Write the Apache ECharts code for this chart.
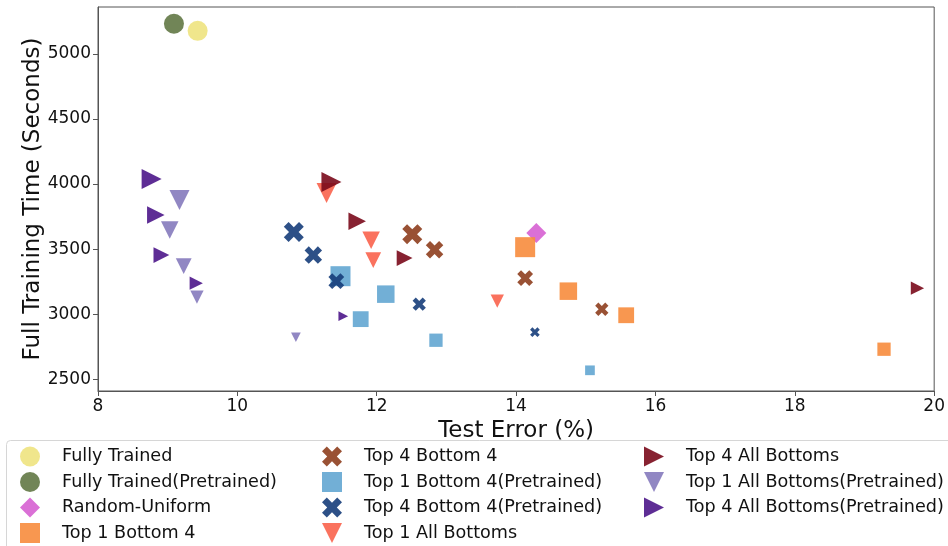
<!DOCTYPE html>
<html>
<head>
<meta charset="utf-8">
<script src="https://cdn.jsdelivr.net/npm/echarts@6/dist/echarts.min.js"></script>
<style>html,body{margin:0;padding:0;background:#fff}#c{width:948px;height:546px}</style>
</head>
<body>
<div id="c"></div>
<script>
// [test error %, training time s, size level]
const fullyTrained = [[9.43, 5177, 5]];
const fullyTrainedPre = [[9.09, 5231, 5]];
const randomUniform = [[14.29, 3623, 5]];
const top1Bottom4 = [[14.13, 3515, 5], [14.75, 3177, 4], [15.58, 2992, 3], [19.28, 2731, 2]];
const top4Bottom4 = [[12.51, 3615, 5], [12.83, 3495, 4], [14.13, 3277, 3], [15.23, 3038, 2]];
const top1Bottom4Pre = [[11.48, 3292, 5], [12.13, 3154, 4], [11.77, 2962, 3], [12.85, 2800, 2], [15.06, 2569, 1]];
const top4Bottom4Pre = [[10.81, 3631, 5], [11.09, 3454, 4], [11.42, 3254, 3], [12.61, 3077, 2], [14.27, 2862, 1]];
const top1AllBottoms = [[11.28, 3931, 5], [11.92, 3569, 4], [11.95, 3415, 3], [13.73, 3100, 2]];
const top4AllBottoms = [[11.35, 4015, 5], [11.72, 3715, 4], [12.40, 3431, 3], [19.76, 3200, 2]];
const top1AllBottomsPre = [[9.17, 3877, 5], [9.03, 3646, 4], [9.23, 3369, 3], [9.42, 3131, 2], [10.84, 2823, 1]];
const top4AllBottomsPre = [[8.77, 4038, 5], [8.83, 3762, 4], [8.91, 3454, 3], [9.41, 3238, 2], [11.52, 2985, 1]];

const seriesNames = ['Fully Trained', 'Fully Trained(Pretrained)', 'Random-Uniform', 'Top 1 Bottom 4',
  'Top 4 Bottom 4', 'Top 1 Bottom 4(Pretrained)', 'Top 4 Bottom 4(Pretrained)', 'Top 1 All Bottoms',
  'Top 4 All Bottoms', 'Top 1 All Bottoms(Pretrained)', 'Top 4 All Bottoms(Pretrained)'];
const seriesData = [fullyTrained, fullyTrainedPre, randomUniform, top1Bottom4, top4Bottom4, top1Bottom4Pre,
  top4Bottom4Pre, top1AllBottoms, top4AllBottoms, top1AllBottomsPre, top4AllBottomsPre];
const yTicks = [2500, 3000, 3500, 4000, 4500, 5000];

const X_PATH = 'path://M0,2.4L2.4,0L5,2.6L7.6,0L10,2.4L7.4,5L10,7.6L7.6,10L5,7.4L2.4,10L0,7.6L2.6,5Z';
const DOWN = 'path://M0,0L10,0L5,10Z';
const RIGHT = 'path://M0,0L10,5L0,10Z';
const symbols = ['circle', 'circle', 'diamond', 'rect', X_PATH, 'rect', X_PATH, DOWN, RIGHT, DOWN, RIGHT];
const colors = ['#eee37f', '#627845', '#d660d1', '#f78c3d', '#8e3e1e', '#63a6d2', '#163d7a', '#fa634d',
  '#7a0a1b', '#857abc', '#4d168a'];
const levelPx = {5: 20, 4: 17.5, 3: 15.8, 2: 13.3, 1: 9.7};

const FONT = 'DejaVu Sans';
const chart = echarts.init(document.getElementById('c'));
const series = seriesNames.map((n, i) => ({
  name: n,
  type: 'scatter',
  data: seriesData[i],
  symbol: symbols[i],
  symbolSize: v => levelPx[v[2]],
  itemStyle: {color: colors[i], opacity: 0.9},
  emphasis: {disabled: true}
}));
const legendCommon = {
  orient: 'vertical', top: 446.5, itemWidth: 20, itemHeight: 20, itemGap: 5.5, padding: 0,
  textStyle: {fontFamily: FONT, fontSize: 17.6, color: '#111', lineHeight: 20, padding: [0, 0, 0, 17]},
  selectedMode: false
};
chart.setOption({
  animation: false,
  backgroundColor: '#fff',
  grid: {left: 98, right: 12, top: 7, bottom: 155, show: true, borderColor: '#555', borderWidth: 1, backgroundColor: 'transparent'},
  xAxis: {
    type: 'value', min: 8, max: 20, interval: 2,
    name: 'Test Error (%)', nameLocation: 'middle', nameGap: 28,
    nameTextStyle: {fontFamily: FONT, fontSize: 23, color: '#111'},
    axisLine: {show: true, lineStyle: {color: '#555'}},
    axisTick: {show: true, inside: false, length: 5, lineStyle: {color: '#555'}},
    axisLabel: {fontFamily: FONT, fontSize: 17, color: '#111', margin: 7},
    splitLine: {show: false}
  },
  yAxis: {
    type: 'value', min: 2410, max: 5360,
    name: 'Full Training Time (Seconds)', nameLocation: 'middle', nameGap: 53, nameMoveOverlap: false,
    nameTextStyle: {fontFamily: FONT, fontSize: 23, color: '#111'},
    axisLine: {show: true, lineStyle: {color: '#555'}},
    axisTick: {show: true, inside: false, length: 5, lineStyle: {color: '#555'}, customValues: yTicks},
    axisLabel: {fontFamily: FONT, fontSize: 17, color: '#111', margin: 7, customValues: yTicks,
      formatter: v => String(v)},
    splitLine: {show: false}
  },
  legend: [
    Object.assign({left: 20, data: seriesNames.slice(0, 4)}, legendCommon),
    Object.assign({left: 322, data: seriesNames.slice(4, 8)}, legendCommon),
    Object.assign({left: 644, data: seriesNames.slice(8, 11)}, legendCommon)
  ],
  graphic: [{
    type: 'rect', left: 6, top: 440, z: -1,
    shape: {width: 960, height: 130, r: 4},
    style: {fill: '#fff', stroke: '#d6d6d6', lineWidth: 1}
  }],
  series: series
});
</script>
</body>
</html>
